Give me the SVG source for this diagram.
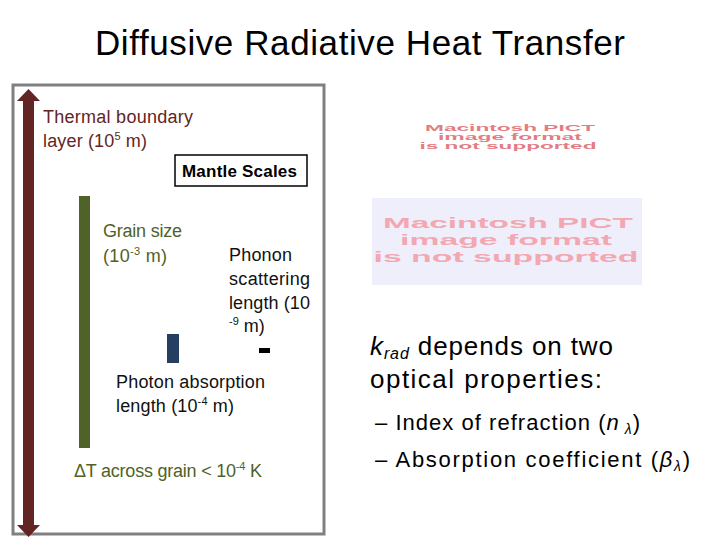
<svg xmlns="http://www.w3.org/2000/svg" width="720" height="540" viewBox="0 0 720 540">
<style>
text{font-family:"Liberation Sans",Arial,sans-serif}
.title{font-size:35px;fill:#000}
.lt{font-size:18px}
.brown{fill:#632523}
.green{fill:#4f6228}
.dark{fill:#111}
.sup{font-size:11px}
.pict1{font-size:8.5px;font-weight:bold;fill:#e27d84}
.pict2{font-size:15px;font-weight:bold;fill:#f2a7b1}
.rt{font-size:26px;fill:#000}
.rs{font-size:22px;fill:#000}
</style>
<rect width="720" height="540" fill="#fff"/>
<g id="title"><text class="title" x="95" y="55" textLength="530">Diffusive Radiative Heat Transfer</text></g>
<g id="frame"><rect x="13" y="85" width="311" height="449" fill="none" stroke="#808080" stroke-width="3"/></g>
<g id="connectors">
<path id="tbl-arrow" d="M28.5 89 L40 101 L34 101 L34 525 L40 525 L28.5 537 L17 525 L23 525 L23 101 L17 101 Z" fill="#632523"/>
<rect id="grain-bar" x="79" y="196" width="11" height="252" fill="#4f6228"/>
<rect id="photon-bar" x="167" y="334" width="12" height="29" fill="#243f60"/>
<rect id="phonon-bar" x="259" y="348" width="11" height="5" fill="#000"/>
</g>
<g id="thermal-label"><text class="lt brown" x="43" y="123" textLength="150">Thermal boundary</text>
<text class="lt brown" x="43" y="147" textLength="104">layer (10<tspan class="sup" dy="-7">5</tspan><tspan dy="7"> m)</tspan></text></g>
<g id="mantle-scales"><rect x="175" y="155" width="132" height="31" fill="#fff" stroke="#000" stroke-width="1.5"/>
<text x="182" y="177" font-size="17" font-weight="bold" textLength="115">Mantle Scales</text></g>
<g id="grain-label"><text class="lt green" x="103" y="237" textLength="79">Grain size</text>
<text class="lt green" x="103" y="262" textLength="64">(10<tspan class="sup" dy="-7">-3</tspan><tspan dy="7"> m)</tspan></text></g>
<g id="phonon-label"><text class="lt dark" x="229" y="261" textLength="63">Phonon</text>
<text class="lt dark" x="229" y="285" textLength="81">scattering</text>
<text class="lt dark" x="229" y="309" textLength="81">length (10</text>
<text class="lt dark" x="229" y="332"><tspan class="sup" dy="-7">-9</tspan><tspan dy="7"> m)</tspan></text></g>
<g id="photon-label"><text class="lt dark" x="116" y="388" textLength="149">Photon absorption</text>
<text class="lt dark" x="116" y="412" textLength="118">length (10<tspan class="sup" dy="-7">-4</tspan><tspan dy="7"> m)</tspan></text></g>
<g id="deltat-label"><text class="lt green" x="74" y="477" textLength="188">ΔT across grain &lt; 10<tspan class="sup" dy="-7">-4</tspan><tspan dy="7"> K</tspan></text></g>
<g id="pict-small">
<text class="pict1" x="510" y="131" text-anchor="middle" textLength="170" lengthAdjust="spacingAndGlyphs">Macintosh PICT</text>
<text class="pict1" x="510" y="140" text-anchor="middle" textLength="144" lengthAdjust="spacingAndGlyphs">image format</text>
<text class="pict1" x="508" y="149" text-anchor="middle" textLength="177" lengthAdjust="spacingAndGlyphs">is not supported</text>
</g>
<g id="pict-large"><rect x="372" y="198" width="270" height="87" fill="#efeffc"/>
<text class="pict2" x="508" y="228" text-anchor="middle" textLength="250" lengthAdjust="spacingAndGlyphs">Macintosh PICT</text>
<text class="pict2" x="506" y="245" text-anchor="middle" textLength="212" lengthAdjust="spacingAndGlyphs">image format</text>
<text class="pict2" x="506" y="262" text-anchor="middle" textLength="265" lengthAdjust="spacingAndGlyphs">is not supported</text>
</g>
<g id="krad-text">
<text class="rt" x="370" y="355" textLength="243"><tspan font-style="italic">k</tspan><tspan font-style="italic" font-size="16" dy="4">rad</tspan><tspan dy="-4"> depends on two</tspan></text>
<text class="rt" x="370" y="388" textLength="232">optical properties:</text>
<text class="rs" x="375" y="430" textLength="265">– Index of refraction (<tspan font-style="italic">n</tspan><tspan font-style="italic" font-size="14" dy="4"> λ</tspan><tspan dy="-4">)</tspan></text>
<text class="rs" x="375" y="467" textLength="315">– Absorption coefficient (<tspan font-style="italic">β</tspan><tspan font-style="italic" font-size="14" dy="4">λ</tspan><tspan dy="-4">)</tspan></text>
</g>
</svg>
